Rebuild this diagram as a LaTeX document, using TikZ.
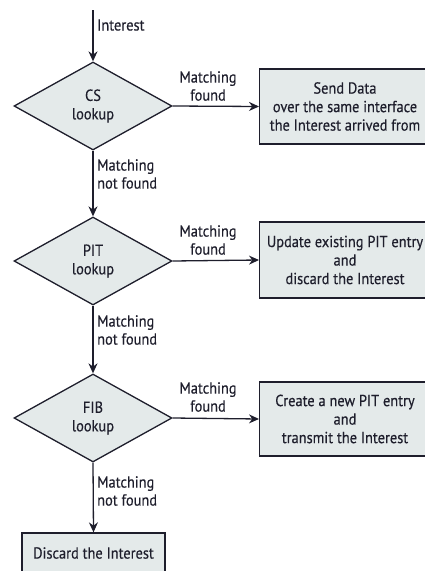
\documentclass[tikz,border=0pt]{standalone}
\usepackage{fontspec}
\setmainfont[FakeStretch=0.9,FakeBold=0.35]{PT Sans}
\usetikzlibrary{shapes.geometric,arrows.meta}
\definecolor{boxfill}{HTML}{E4EAEA}
\definecolor{ink}{HTML}{1E1E2C}
\tikzset{
  dec/.style={diamond, draw=ink, line width=1.3pt, fill=boxfill, inner sep=0pt,
    minimum width=158pt, minimum height=88pt, align=center, text=ink, font=\fontsize{16}{18.5}\selectfont},
  actbox/.style={rectangle, draw=ink, line width=1.3pt, fill=boxfill, align=center,
    text=ink, font=\fontsize{16}{18.5}\selectfont},
  boxtext/.style={align=center, text=ink, inner sep=0pt, font=\fontsize{16}{18.5}\selectfont},
  lbl/.style={text=ink, font=\fontsize{16}{18}\selectfont, inner sep=0pt},
  arr/.style={draw=ink, line width=1.3pt, -{Stealth[length=10pt,width=9pt]}}
}
\begin{document}
\begin{tikzpicture}[x=1pt,y=-1pt]
\useasboundingbox (0,0) rectangle (425,571);
\clip (0,0) rectangle (425,571);
\coordinate (start) at (93,10);
\node[dec] (cs) at (93,106) {CS\\lookup};
\node[dec] (pit) at (93,261) {PIT\\lookup};
\node[dec] (fib) at (93,418) {FIB\\lookup};
\node[actbox, anchor=west, minimum width=190pt, minimum height=75pt] (b1) at (259,106.5) {};
\node[boxtext] (t1) at (345,106.5) {Send Data\\over the same interface\\the Interest arrived from};
\node[actbox, anchor=west, minimum width=190pt, minimum height=76pt] (b2) at (259,260) {};
\node[boxtext] (t2) at (345,260) {Update existing PIT entry\\and\\discard the Interest};
\node[actbox, anchor=west, minimum width=190pt, minimum height=74pt] (b3) at (259,419) {};
\node[boxtext] (t3) at (345,419) {Create a new PIT entry\\and\\transmit the Interest};
\node[actbox, minimum width=143pt, minimum height=46pt] (b4) at (93.5,556) {};
\node[boxtext] (t4) at (93.5,553) {Discard the Interest};

\draw[arr] (start) -- (cs.north);
\draw[arr] (cs.south) -- (pit.north);
\draw[arr] (pit.south) -- (fib.north);
\draw[arr] (fib.south) -- (b4.north);
\draw[arr] (cs.east) -- (b1.west);
\draw[arr] (pit.east) -- (b2.west);
\draw[arr] (fib.east) -- (b3.west);

\node[lbl, anchor=west] (l0) at (97,25) {Interest};
\node[lbl, align=center] (l1) at (208,86) {Matching\\found};
\node[lbl, align=center] (l2) at (208,240) {Matching\\found};
\node[lbl, align=center] (l3) at (208,397) {Matching\\found};
\node[lbl, align=left, anchor=west] (n1) at (97,174) {Matching\\not found};
\node[lbl, align=left, anchor=west] (n2) at (97,330) {Matching\\not found};
\node[lbl, align=left, anchor=west] (n3) at (97,491) {Matching\\not found};
\end{tikzpicture}
\end{document}
